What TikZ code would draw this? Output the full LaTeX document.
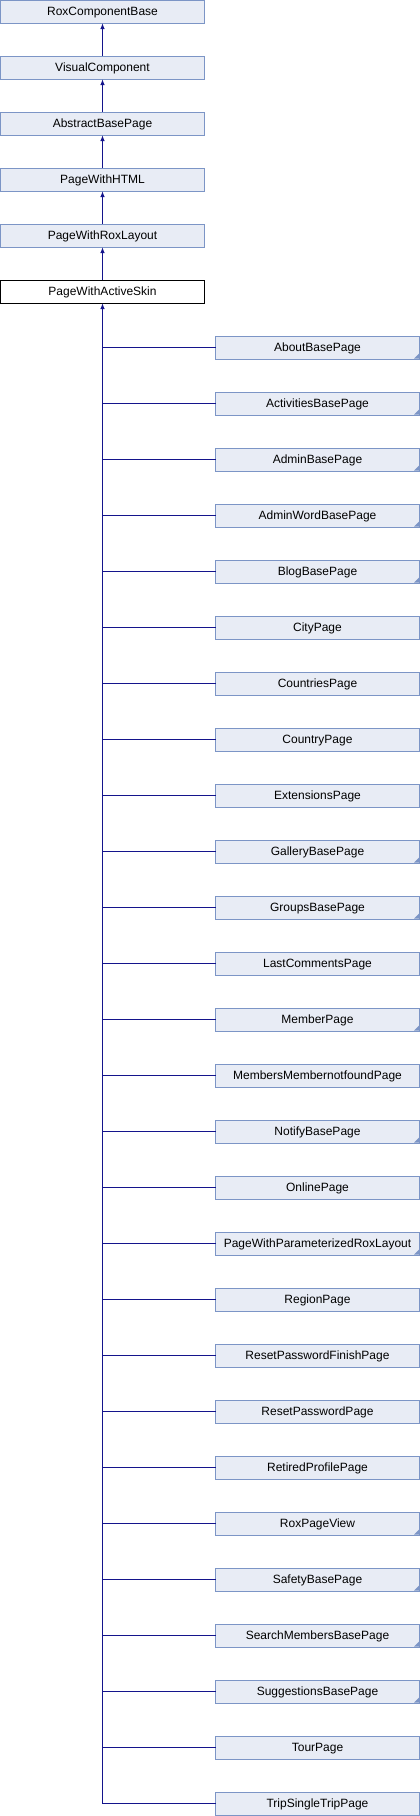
\documentclass[tikz,border=0pt]{standalone}
\usepackage{fontspec}
\setmainfont{Liberation Sans}
\usetikzlibrary{arrows.meta}
\definecolor{boxfill}{RGB}{232,236,245}
\definecolor{boxdraw}{RGB}{124,149,198}
\definecolor{edgecol}{RGB}{20,20,140}
\tikzset{
  cls/.style={draw=boxdraw, fill=boxfill, line width=1pt, minimum width=204pt, minimum height=23pt, inner sep=0pt, outer sep=0pt, text height=8.6pt, text depth=0pt, font=\fontsize{12}{14}\selectfont, text=black},
  cur/.style={cls, draw=black, fill=white},
  edge/.style={draw=edgecol, line width=1.1pt},
  arr/.style={edge, {Latex[length=6pt,width=4.5pt]}-}
}
\begin{document}
\begin{tikzpicture}[x=1pt,y=1pt]
\useasboundingbox (0,0) rectangle (420,-1816);
\node[cls] (n1) at (102.5,-11.5) {RoxComponentBase};
\node[cls] (n2) at (102.5,-67.5) {VisualComponent};
\node[cls] (n3) at (102.5,-123.5) {AbstractBasePage};
\node[cls] (n4) at (102.5,-179.5) {PageWithHTML};
\node[cls] (n5) at (102.5,-235.5) {PageWithRoxLayout};
\node[cur] (n6) at (102.5,-291.5) {PageWithActiveSkin};
\draw[arr] (n1.south) -- (n2.north);
\draw[arr] (n2.south) -- (n3.north);
\draw[arr] (n3.south) -- (n4.north);
\draw[arr] (n4.south) -- (n5.north);
\draw[arr] (n5.south) -- (n6.north);
\foreach \lab/\f [count=\i] in {
 AboutBasePage/1, ActivitiesBasePage/1, AdminBasePage/1, AdminWordBasePage/1,
 BlogBasePage/1, CityPage/0, CountriesPage/0, CountryPage/0, ExtensionsPage/0,
 GalleryBasePage/1, GroupsBasePage/1, LastCommentsPage/0, MemberPage/1,
 MembersMembernotfoundPage/0, NotifyBasePage/1, OnlinePage/0,
 PageWithParameterizedRoxLayout/1, RegionPage/0, ResetPasswordFinishPage/0,
 ResetPasswordPage/0, RetiredProfilePage/0, RoxPageView/1, SafetyBasePage/1,
 SearchMembersBasePage/1, SuggestionsBasePage/1, TourPage/0, TripSingleTripPage/0} {
  \node[cls] (c\i) at (317.5,{-347.5-56*(\i-1)}) {\lab};
  \ifnum\f=1
    \fill[boxdraw] ([xshift=-0.5pt,yshift=0.5pt]c\i.south east) -- ++(0,5) -- ++(-5,-5) -- cycle;
  \fi
  \draw[edge] (n6.south |- c\i.west) -- (c\i.west);
}
\draw[arr] (n6.south) -- (n6.south |- c27.west);
\end{tikzpicture}
\end{document}
